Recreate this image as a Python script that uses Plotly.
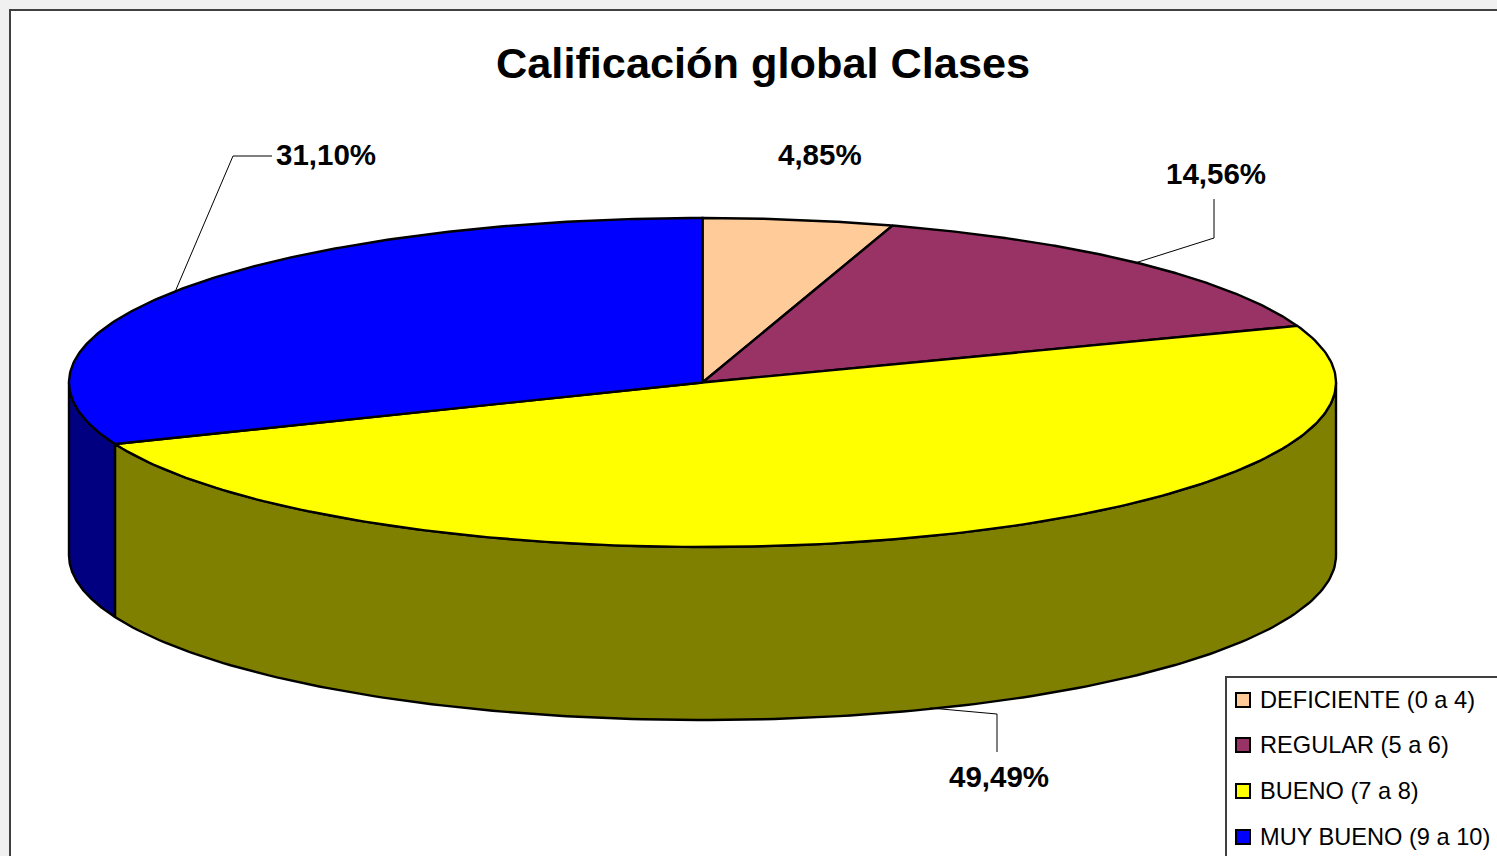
import numpy as np
import plotly.graph_objects as go

categories = ["DEFICIENTE (0 a 4)", "REGULAR (5 a 6)", "BUENO (7 a 8)", "MUY BUENO (9 a 10)"]
values = [4.85, 14.56, 49.49, 31.10]
top_colors = ["#FFCC99", "#993366", "#FFFF00", "#0000FF"]
side_colors = ["#806650", "#4D1A33", "#808000", "#000080"]
title_text = "Calificación global Clases"

# pie geometry, in page pixels
CX, CY = 702.5, 382.5
RX, RY = 633.5, 164.5
DEPTH = 173
FONT = "Liberation Sans, Arial, sans-serif"

# label position and leader line for each slice
label_pos = [(820, 154), (1216, 173), (999, 776), (326, 154)]
leaders = [None,
           [(1135, 263), (1214, 238), (1214, 199)],
           [(930, 708), (997, 714), (997, 752)],
           [(175, 292), (233, 156), (272, 156)]]
legend_rows = [700, 745, 791, 837]


def rim(t):
    return CX + RX * np.sin(t), CY - RY * np.cos(t)


fig = go.Figure()
edges = np.cumsum([0] + values) / 100 * 2 * np.pi

# outer wall, only the front half of the ellipse shows
for i in range(len(values)):
    a, b = max(edges[i], np.pi / 2), min(edges[i + 1], 3 * np.pi / 2)
    if a >= b:
        continue
    t = np.linspace(a, b, 160)
    x, y = rim(t)
    fig.add_trace(go.Scatter(x=np.r_[x, x[::-1], x[0]], y=np.r_[y, y[::-1] + DEPTH, y[0]],
                             mode="lines", fill="toself", fillcolor=side_colors[i],
                             line=dict(color="black", width=2.4), hoverinfo="skip"))

# top face
for i in range(len(values)):
    t = np.linspace(edges[i], edges[i + 1], 200)
    x, y = rim(t)
    fig.add_trace(go.Scatter(x=np.r_[CX, x, CX], y=np.r_[CY, y, CY],
                             mode="lines", fill="toself", fillcolor=top_colors[i],
                             line=dict(color="black", width=2.4), hoverinfo="skip"))

for pts in leaders:
    if pts:
        fig.add_trace(go.Scatter(x=[p[0] for p in pts], y=[p[1] for p in pts], mode="lines",
                                 line=dict(color="black", width=1), hoverinfo="skip"))

# legend swatches, the box runs off the page like in the original
fig.add_trace(go.Scatter(x=[1243] * 4, y=legend_rows, mode="markers", hoverinfo="skip",
                         marker=dict(symbol="square", size=14, color=top_colors,
                                     line=dict(color="black", width=2))))

annotations = [dict(x=763, y=63, text="<b>%s</b>" % title_text, font=dict(size=43.3))]
for v, (lx, ly) in zip(values, label_pos):
    annotations.append(dict(x=lx, y=ly, text="<b>%s%%</b>" % f"{v:.2f}".replace(".", ","),
                            font=dict(size=29.5)))
for name, ly in zip(categories, legend_rows):
    annotations.append(dict(x=1258, y=ly, text=name, xanchor="left", font=dict(size=23.6)))
for a in annotations:
    a.update(xref="x", yref="y", showarrow=False)
    a.setdefault("xanchor", "center")
    a["font"].update(family=FONT, color="black")

shapes = [
    dict(type="rect", x0=10, y0=10, x1=1520, y1=880, layer="below",
         line=dict(color="#404040", width=2), fillcolor="white"),
    dict(type="rect", x0=1226, y0=677, x1=1520, y1=880, layer="below",
         line=dict(color="#404040", width=2), fillcolor="white"),
]

fig.update_layout(width=1497, height=856, margin=dict(l=0, r=0, t=0, b=0),
                  paper_bgcolor="#F0F0F0", plot_bgcolor="#F0F0F0", showlegend=False,
                  annotations=annotations, shapes=shapes)
fig.update_xaxes(range=[0, 1497], visible=False)
fig.update_yaxes(range=[856, 0], visible=False)

fig.write_html("out.html", config={"displayModeBar": False},
               post_script="document.body.style.margin='0';document.body.style.overflow='hidden';")
